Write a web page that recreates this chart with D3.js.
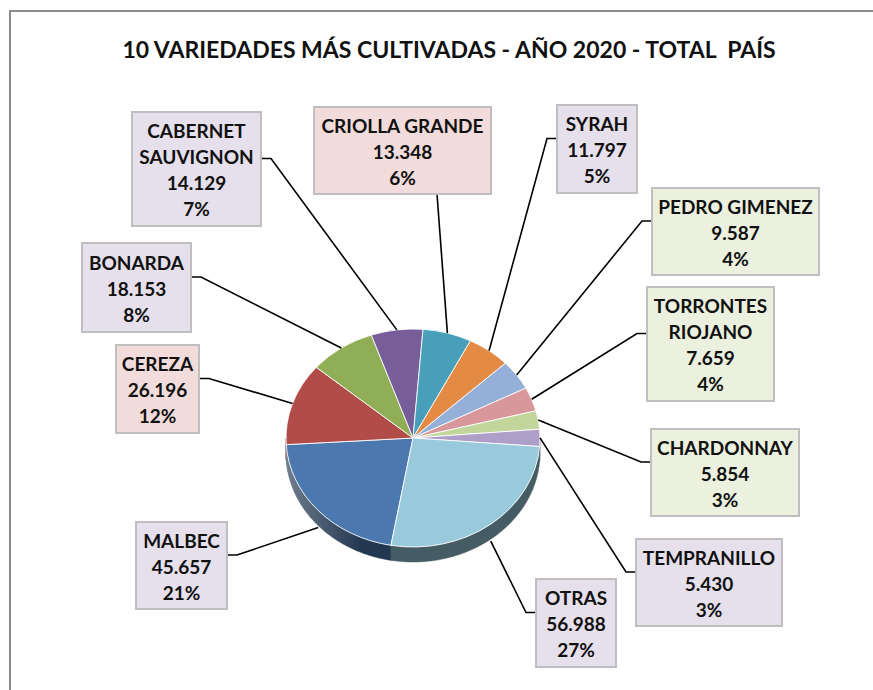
<!DOCTYPE html>
<html>
<head>
<meta charset="utf-8">
<script src="https://cdn.jsdelivr.net/npm/d3@7"></script>
<style>
  body { margin: 0; background: #fff; }
  text { font-family: Lato, "Open Sans", sans-serif; font-weight: bold; fill: #111; }
</style>
</head>
<body>
<div id="chart"></div>
<script>
// data
const varieties = ["MALBEC", "CEREZA", "BONARDA", "CABERNET\nSAUVIGNON", "CRIOLLA GRANDE", "SYRAH",
  "PEDRO GIMENEZ", "TORRONTES\nRIOJANO", "CHARDONNAY", "TEMPRANILLO", "OTRAS"];
const hectares = [45657, 26196, 18153, 14129, 13348, 11797, 9587, 7659, 5854, 5430, 56988];
const sliceColors = ["#4a78af", "#b14c49", "#8fae55", "#775e98", "#479fb9", "#e38b44",
  "#94b0d8", "#d8979a", "#c2d69c", "#ad9fc8", "#98cadb"];
const boxColors = ["#e5e0ec", "#f2dcdb", "#e5e0ec", "#e5e0ec", "#f2dcdb", "#e5e0ec",
  "#ebf1de", "#ebf1de", "#ebf1de", "#e5e0ec", "#e5e0ec"];

// label boxes
const boxes = [
  {x: 136, y: 522, w: 91, h: 87, side: "right"},
  {x: 116, y: 345, w: 83, h: 88, side: "right"},
  {x: 82, y: 243, w: 109, h: 89, side: "right"},
  {x: 132, y: 112, w: 129, h: 114, side: "right"},
  {x: 314, y: 107, w: 177, h: 87, side: "bottom", ax: 123},
  {x: 557, y: 105, w: 80, h: 88, side: "left"},
  {x: 652, y: 188, w: 167, h: 87, side: "left"},
  {x: 647, y: 287, w: 127, h: 114, side: "left"},
  {x: 651, y: 429, w: 148, h: 87, side: "left"},
  {x: 636, y: 539, w: 146, h: 87, side: "left"},
  {x: 536, y: 579, w: 80, h: 88, side: "left"}
];

const width = 873, height = 690;
const cx = 413, cy = 438, rx = 127, ry = 109, depth = 15;
const total = d3.sum(hectares);
const fmt = d3.formatLocale({decimal: ",", thousands: ".", grouping: [3], currency: ["$", ""]}).format(",d");

const svg = d3.select("#chart").append("svg")
  .attr("width", width)
  .attr("height", height);

svg.append("rect").attr("width", width).attr("height", height).style("fill", "#fff");

// frame
svg.append("path")
  .attr("d", `M10,${height} L10,11 L${width},11`)
  .style("fill", "none")
  .style("stroke", "#8c8c8c")
  .style("stroke-width", 2);

svg.append("text")
  .attr("x", 449)
  .attr("y", 58)
  .attr("text-anchor", "middle")
  .style("font-size", "23px")
  .style("white-space", "pre")
  .text("10 VARIEDADES MÁS CULTIVADAS - AÑO 2020 - TOTAL  PAÍS");

const startA = 190 * Math.PI / 180;
const pie = d3.pie().sort(null).value(d => d)
  .startAngle(startA).endAngle(startA + 2 * Math.PI);
const arcs = pie(hectares);

const pt = (a, dy = 0) => [cx + rx * Math.sin(a), cy - ry * Math.cos(a) + dy];
const line = d3.line();

// side walls (front half only)
const sideG = svg.append("g");
const windows = [[Math.PI / 2, 3 * Math.PI / 2], [5 * Math.PI / 2, 7 * Math.PI / 2]];
arcs.forEach((d, i) => {
  windows.forEach(([w0, w1]) => {
    const s = Math.max(d.startAngle, w0), e = Math.min(d.endAngle, w1);
    if (e <= s) return;
    const steps = d3.range(s, e, 0.01).concat([e]);
    const pts = steps.map(a => pt(a)).concat(steps.slice().reverse().map(a => pt(a, depth)));
    sideG.append("path")
      .attr("d", line(pts) + "Z")
      .style("fill", d3.color(sliceColors[i]).darker(2.2))
      .style("stroke", d3.color(sliceColors[i]).darker(2.2))
      .style("stroke-width", 0.5);
  });
});

// light on the left part of the wall
const grad = svg.append("defs").append("linearGradient")
  .attr("id", "wall-light")
  .attr("gradientUnits", "userSpaceOnUse")
  .attr("x1", cx - rx).attr("x2", cx + rx).attr("y1", 0).attr("y2", 0);
grad.append("stop").attr("offset", 0).style("stop-color", "#fff").style("stop-opacity", 0.35);
grad.append("stop").attr("offset", 0.3).style("stop-color", "#fff").style("stop-opacity", 0);
const wall = d3.range(Math.PI / 2, 3 * Math.PI / 2, 0.01).concat([3 * Math.PI / 2]);
sideG.append("path")
  .attr("d", line(wall.map(a => pt(a)).concat(wall.slice().reverse().map(a => pt(a, depth)))) + "Z")
  .style("fill", "url(#wall-light)");

// top surface
const arc = d3.arc().innerRadius(0).outerRadius(rx);
svg.append("g")
  .attr("transform", `translate(${cx},${cy}) scale(1,${ry / rx})`)
  .selectAll("path")
  .data(arcs)
  .join("path")
  .attr("d", arc)
  .attr("vector-effect", "non-scaling-stroke")
  .style("fill", (d, i) => sliceColors[i])
  .style("stroke", "#fff")
  .style("stroke-opacity", 0.85)
  .style("stroke-width", 1);

// leader lines
arcs.forEach((d, i) => {
  const b = boxes[i];
  const m = (d.startAngle + d.endAngle) / 2;
  const end = pt(m, Math.cos(m) < -0.05 ? depth + 2 : 0);
  const ay = b.y + b.h / 2 - 10.5;
  let pts;
  if (b.side === "right") pts = [[b.x + b.w, ay], [b.x + b.w + 10, ay], end];
  else if (b.side === "left") pts = [[b.x, ay], [b.x - 10, ay], end];
  else pts = [[b.x + b.ax, b.y + b.h], end];
  svg.append("path")
    .attr("d", line(pts))
    .style("fill", "none")
    .style("stroke", "#000")
    .style("stroke-width", 1.6);
});

// label boxes
boxes.forEach((b, i) => {
  const g = svg.append("g");
  g.append("rect")
    .attr("x", b.x).attr("y", b.y)
    .attr("width", b.w).attr("height", b.h)
    .style("fill", boxColors[i])
    .style("stroke", "#bfbfbf")
    .style("stroke-width", 2);
  const lines = varieties[i].split("\n")
    .concat([fmt(hectares[i]), Math.round(hectares[i] / total * 100) + "%"]);
  const mid = b.y + b.h / 2 + 1.5;
  lines.forEach((t, k) => {
    g.append("text")
      .attr("x", b.x + b.w / 2)
      .attr("y", mid + (k - (lines.length - 1) / 2) * 26)
      .attr("dy", "0.35em")
      .attr("text-anchor", "middle")
      .style("font-size", "19px")
      .text(t);
  });
});
</script>
</body>
</html>
